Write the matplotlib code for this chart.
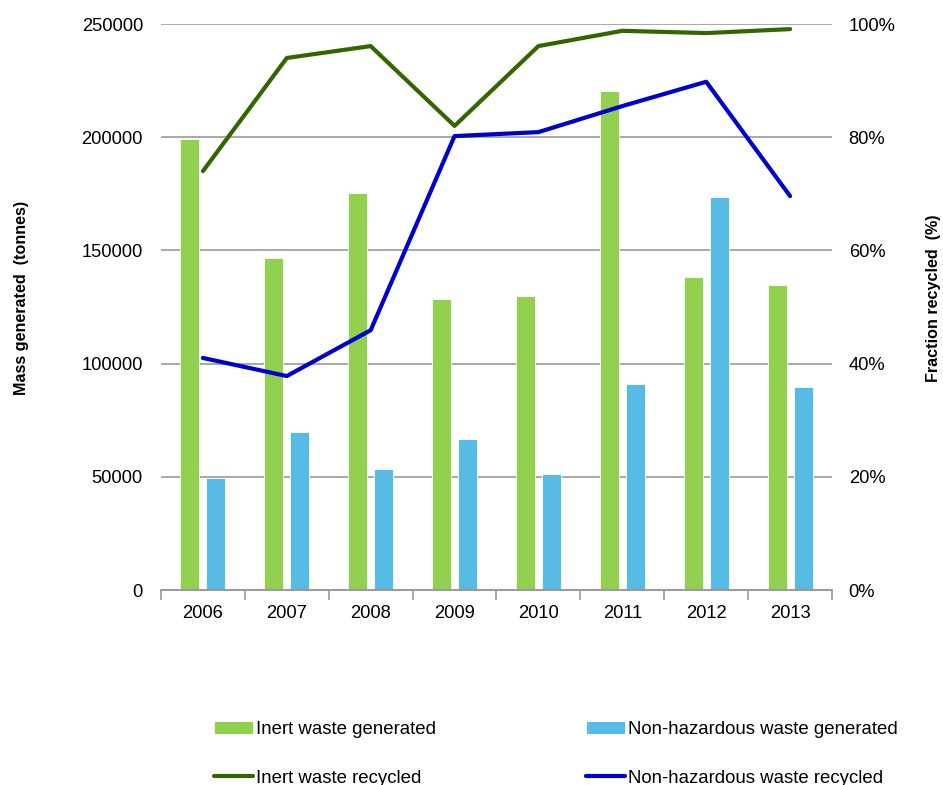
import numpy as np
import matplotlib.pyplot as plt
from matplotlib.ticker import FuncFormatter

plt.rcParams['font.family'] = ['Liberation Sans', 'DejaVu Sans']

years = ['2006', '2007', '2008', '2009', '2010', '2011', '2012', '2013']
inert_generated = [199300, 146700, 175400, 128500, 129900, 220400, 138300, 134700]
nonhaz_generated = [49500, 69800, 53400, 66700, 51200, 91000, 173600, 89700]
inert_recycled = [74.0, 94.0, 96.1, 82.0, 96.1, 98.8, 98.4, 99.1]
nonhaz_recycled = [41.0, 37.8, 45.9, 80.2, 80.9, 85.5, 89.8, 69.6]

green = '#92d050'
blue = '#56bce6'
dark_green = '#336600'
navy = '#0000cc'
grid_grey = '#9a9a9a'

fig = plt.figure(figsize=(9.43, 7.85), dpi=100)
ax = fig.add_axes([0.1707, 0.2484, 0.7116, 0.7210])
ax2 = ax.twinx()

x = np.arange(len(years))
w = 0.225
ax.bar(x - 0.155, inert_generated, w, color=green, edgecolor='white', linewidth=0.6,
       label='Inert waste generated', zorder=2)
ax.bar(x + 0.155, nonhaz_generated, w, color=blue, edgecolor='white', linewidth=0.6,
       label='Non-hazardous waste generated', zorder=2)

ax2.plot(x, inert_recycled, color=dark_green, lw=3, solid_capstyle='round',
         label='Inert waste recycled')
ax2.plot(x, nonhaz_recycled, color=navy, lw=3, solid_capstyle='round',
         label='Non-hazardous waste recycled')

ax.set_xlim(-0.5, len(years) - 0.5)
ax.set_ylim(0, 250000)
ax.set_yticks(np.arange(0, 250001, 50000))
ax2.set_ylim(0, 100)
ax2.set_yticks(np.arange(0, 101, 20))
ax2.yaxis.set_major_formatter(FuncFormatter(lambda v, p: f'{v:.0f}%'))

ax.yaxis.grid(True, color=grid_grey, lw=1.2)
ax.set_axisbelow(True)

# category labels centred, tick marks on category boundaries
ax.set_xticks(x)
ax.set_xticklabels(years)
ax.set_xticks(np.arange(-0.5, len(years)), minor=True)
ax.tick_params(axis='x', which='major', length=0, pad=11, labelsize=13.2)
ax.tick_params(axis='x', which='minor', length=7, width=1.2, color=grid_grey)
ax.tick_params(axis='y', length=0, pad=13, labelsize=13.2)
ax2.tick_params(axis='y', length=0, pad=12, labelsize=13.2)

for a in (ax, ax2):
    for s in ('top', 'left', 'right'):
        a.spines[s].set_visible(False)
    a.spines['bottom'].set_color(grid_grey)
    a.spines['bottom'].set_linewidth(1.2)

fig.text(0.023, 0.620, 'Mass generated  (tonnes)', rotation=90, ha='center', va='center',
         fontsize=11.6, fontweight='bold')
fig.text(0.990, 0.620, 'Fraction recycled  (%)', rotation=90, ha='center', va='center',
         fontsize=11.6, fontweight='bold')

h1, l1 = ax.get_legend_handles_labels()
h2, l2 = ax2.get_legend_handles_labels()
handles = [h1[0], h2[0], h1[1], h2[1]]
labels = [l1[0], l2[0], l1[1], l2[1]]
fig.legend(handles, labels, ncol=2, loc='upper left', bbox_to_anchor=(0.217, 0.094),
           frameon=False, fontsize=13.4, handlelength=2.1, handleheight=0.7,
           handletextpad=0.15, columnspacing=8.07, labelspacing=1.72, borderpad=0)

fig.savefig('out.png', dpi=100)
